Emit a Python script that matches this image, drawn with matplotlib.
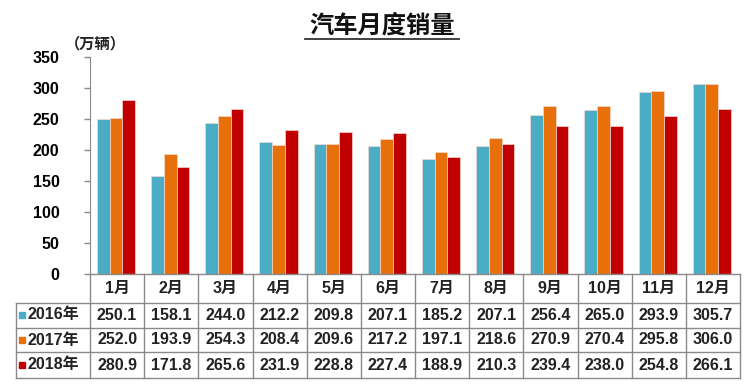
import matplotlib
matplotlib.use("Agg")
import matplotlib.pyplot as plt
import matplotlib.transforms as mtransforms
from matplotlib.patches import Rectangle

months = ["1月", "2月", "3月", "4月", "5月", "6月", "7月", "8月", "9月", "10月", "11月", "12月"]
years = ["2016年", "2017年", "2018年"]
sales_2016 = [250.1, 158.1, 244.0, 212.2, 209.8, 207.1, 185.2, 207.1, 256.4, 265.0, 293.9, 305.7]
sales_2017 = [252.0, 193.9, 254.3, 208.4, 209.6, 217.2, 197.1, 218.6, 270.9, 270.4, 295.8, 306.0]
sales_2018 = [280.9, 171.8, 265.6, 231.9, 228.8, 227.4, 188.9, 210.3, 239.4, 238.0, 254.8, 266.1]
series = [sales_2016, sales_2017, sales_2018]
colors = ["#4BACC6", "#E8700A", "#C00000"]
yticks = [0, 50, 100, 150, 200, 250, 300, 350]

FONT = ["Liberation Sans", "Noto Sans CJK SC", "DejaVu Sans"]
plt.rcParams['font.family'] = FONT

W, H = 752, 386
fig = plt.figure(figsize=(W / 100, H / 100), dpi=100)

def fx(px):
    return px / W

def fy(py):
    return 1 - py / H

ax_l, ax_r, ax_t, ax_b = 90, 740, 57, 274
ax = fig.add_axes([fx(ax_l), fy(ax_b), fx(ax_r - ax_l), (ax_b - ax_t) / H])

n = len(months)
xs = list(range(n))
bw = 0.235
offs = [-0.255, -0.02, 0.215]
for s, vals in enumerate(series):
    ax.bar([x + offs[s] for x in xs], vals, width=bw, color=colors[s],
           edgecolor="#F4D9D0", linewidth=0.5, zorder=2)

ax.set_xlim(-0.5, n - 0.5)
ax.set_ylim(0, 350)
ax.set_yticks(yticks)
ax.set_yticklabels([str(t) for t in yticks], fontsize=11.5, fontweight="bold")
ax.tick_params(axis="y", length=4, color="#888888", width=1, pad=18)
ax.set_xticks([])
for sp in ["top", "right", "bottom"]:
    ax.spines[sp].set_visible(False)
ax.spines["left"].set_color("#888888")

# Title and unit
fig.text(fx(382), fy(26), "汽车月度销量", ha="center", va="center", fontsize=17.5,
         fontweight="bold", color="#111111", family=FONT)
fig.add_artist(plt.Line2D([fx(305), fx(459)], [fy(39), fy(39)], color="#333333", lw=1.3))
fig.text(fx(95), fy(44), "（万辆）", ha="center", va="center", fontsize=11,
         fontweight="bold", color="#222222", family=FONT)

# Data table
blend = mtransforms.blended_transform_factory(ax.transData, fig.transFigure)
lc = "#8a8a8a"
row_lines = [303, 327.5, 352, 378]
fig.add_artist(plt.Line2D([fx(ax_l), fx(ax_r)], [fy(274), fy(274)], color=lc, lw=1))
for yl in row_lines:
    fig.add_artist(plt.Line2D([fx(16), fx(ax_r)], [fy(yl), fy(yl)], color=lc, lw=1))
for k in range(n + 1):
    xb = k - 0.5
    ax.add_artist(plt.Line2D([xb, xb], [fy(274), fy(378)], color=lc, lw=1,
                             transform=blend, clip_on=False))
fig.add_artist(plt.Line2D([fx(16), fx(16)], [fy(303), fy(378)], color=lc, lw=1))

for i, m in enumerate(months):
    ax.text(i, fy(288), m, transform=blend, ha="center", va="center", fontsize=11.5,
            fontweight="bold", color="#222222", family=FONT, clip_on=False)

row_centers = [315, 340, 365]
for r, vals in enumerate(series):
    yc = fy(row_centers[r])
    fig.add_artist(Rectangle((fx(19), yc - 3.2 / H), 6.4 / W, 6.4 / H,
                             color=colors[r], transform=fig.transFigure))
    fig.text(fx(28), yc, years[r], ha="left", va="center", fontsize=11.5,
             fontweight="bold", color="#222222", family=FONT)
    for i, v in enumerate(vals):
        ax.text(i, yc, f"{v:.1f}", transform=blend, ha="center", va="center",
                fontsize=11.5, fontweight="bold", color="#222222", family=FONT,
                clip_on=False)

fig.savefig("out.png", dpi=100)
